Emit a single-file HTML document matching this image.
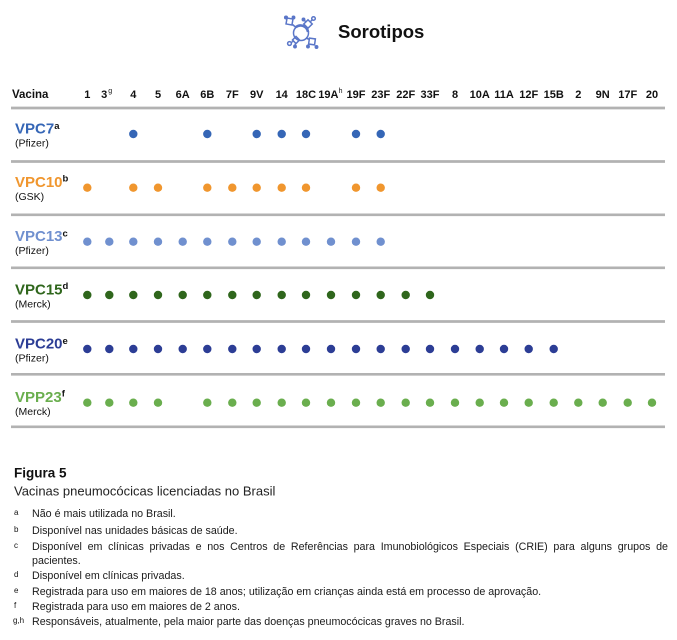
<!DOCTYPE html>
<html>
<head>
<meta charset="utf-8">
<style>
  html, body { margin:0; padding:0; background:#fff; }
  #wrap { position:relative; width:677px; height:640px; overflow:hidden; background:#fff; }
  svg { position:absolute; left:0; top:0; }
  .fn { position:absolute; left:32px; font-family:"Liberation Sans", sans-serif; font-size:10.7px; line-height:13px; height:13px; color:#1a1a1a; white-space:nowrap; }
  .just { width:636px; text-align:justify; text-align-last:justify; white-space:normal; }
</style>
</head>
<body>
<div id="wrap">
<svg width="677" height="640" viewBox="0 0 677 640" xmlns="http://www.w3.org/2000/svg" font-family="Liberation Sans, sans-serif">
  <!-- icon -->
  <g stroke="#5a76c8" fill="none" stroke-width="1.5">
    <circle cx="301" cy="33" r="7.5"/>
    <path d="M296 27 A7.5 7.5 0 0 1 308 32" stroke-width="2.6"/>
    <rect x="286.5" y="18.5" width="6" height="6" transform="rotate(10 289.5 21.5)"/>
    <line x1="292.5" y1="24.5" x2="296" y2="27.5"/>
    <circle cx="286" cy="17.5" r="1.3" fill="#5a76c8"/>
    <circle cx="293.5" cy="17.5" r="1.2" fill="#5a76c8"/>
    <rect x="305" y="21" width="6" height="6" transform="rotate(45 308 24)"/>
    <circle cx="313.5" cy="18.5" r="1.8"/>
    <line x1="310.5" y1="21.5" x2="312.3" y2="19.8"/>
    <circle cx="303.5" cy="19.5" r="1.2" fill="#5a76c8"/>
    <line x1="304.5" y1="20.5" x2="306" y2="22"/>
    <circle cx="289.5" cy="43.5" r="1.9"/>
    <rect x="293.5" y="37.5" width="5" height="5" transform="rotate(45 296 40)"/>
    <line x1="291" y1="42.5" x2="294" y2="41"/>
    <line x1="297.5" y1="38.5" x2="297" y2="39"/>
    <circle cx="295" cy="46.5" r="1.2" fill="#5a76c8"/>
    <line x1="295" y1="45" x2="296" y2="42.5"/>
    <rect x="309" y="38.5" width="6" height="6" transform="rotate(8 312 41.5)"/>
    <line x1="306" y1="38" x2="309.5" y2="39.5"/>
    <circle cx="316.5" cy="47" r="1.2" fill="#5a76c8"/>
    <circle cx="308" cy="46.5" r="1.2" fill="#5a76c8"/>
  </g>
  <text x="338" y="38" font-size="18.5" font-weight="bold" fill="#111">Sorotipos</text>

  <!-- header -->
  <g font-size="11" font-weight="bold" fill="#111" text-anchor="middle">
    <text x="12" y="98" text-anchor="start" font-size="11.5">Vacina</text>
    <text x="87.3" y="98">1</text>
    <text x="107.3" y="98" text-anchor="end">3</text>
    <text x="108.2" y="93" text-anchor="start" font-size="7" font-weight="normal">g</text>
    <text x="133.3" y="98">4</text>
    <text x="158" y="98">5</text>
    <text x="182.7" y="98">6A</text>
    <text x="207.3" y="98">6B</text>
    <text x="232.3" y="98">7F</text>
    <text x="256.7" y="98">9V</text>
    <text x="281.7" y="98">14</text>
    <text x="306" y="98">18C</text>
    <text x="318.3" y="98" text-anchor="start">19A</text>
    <text x="338.6" y="93" text-anchor="start" font-size="7" font-weight="normal">h</text>
    <text x="356" y="98">19F</text>
    <text x="380.7" y="98">23F</text>
    <text x="405.7" y="98">22F</text>
    <text x="430" y="98">33F</text>
    <text x="455" y="98">8</text>
    <text x="479.7" y="98">10A</text>
    <text x="504" y="98">11A</text>
    <text x="528.7" y="98">12F</text>
    <text x="553.7" y="98">15B</text>
    <text x="578.3" y="98">2</text>
    <text x="602.7" y="98">9N</text>
    <text x="627.7" y="98">17F</text>
    <text x="652" y="98">20</text>
  </g>

  <!-- rules -->
  <g stroke="#b2b2b2" stroke-width="2.7">
    <line x1="11" y1="108" x2="665" y2="108"/>
    <line x1="11" y1="161.5" x2="665" y2="161.5"/>
    <line x1="11" y1="214.8" x2="665" y2="214.8"/>
    <line x1="11" y1="267.8" x2="665" y2="267.8"/>
    <line x1="11" y1="321.5" x2="665" y2="321.5"/>
    <line x1="11" y1="374.3" x2="665" y2="374.3"/>
    <line x1="11" y1="426.8" x2="665" y2="426.8"/>
  </g>

  <!-- row labels -->
  <g font-weight="bold" font-size="15">
    <text x="15" y="133.3" fill="#3566b6">VPC7<tspan font-size="9.5" fill="#111" dy="-4.5">a</tspan></text>
    <text x="15" y="187" fill="#f0962e">VPC10<tspan font-size="9.5" fill="#111" dy="-5.5">b</tspan></text>
    <text x="15" y="241" fill="#7090cf">VPC13<tspan font-size="9.5" fill="#111" dy="-4.5">c</tspan></text>
    <text x="15" y="294.3" fill="#2f661c">VPC15<tspan font-size="9.5" fill="#111" dy="-5.5">d</tspan></text>
    <text x="15" y="348.3" fill="#2c3d95">VPC20<tspan font-size="9.5" fill="#111" dy="-4.5">e</tspan></text>
    <text x="15" y="402" fill="#6aae4e">VPP23<tspan font-size="9.5" fill="#111" dy="-5.5">f</tspan></text>
  </g>
  <g font-size="10.5" fill="#111">
    <text x="15" y="146.5">(Pfizer)</text>
    <text x="15" y="200.2">(GSK)</text>
    <text x="15" y="254.2">(Pfizer)</text>
    <text x="15" y="307.5">(Merck)</text>
    <text x="15" y="361.5">(Pfizer)</text>
    <text x="15" y="415.2">(Merck)</text>
  </g>

  <!-- VPC7 -->
  <g fill="#3566b6">
    <circle cx="133.3" cy="134" r="4.2"/><circle cx="207.3" cy="134" r="4.2"/>
    <circle cx="256.7" cy="134" r="4.2"/><circle cx="281.7" cy="134" r="4.2"/>
    <circle cx="306" cy="134" r="4.2"/><circle cx="356" cy="134" r="4.2"/>
    <circle cx="380.7" cy="134" r="4.2"/>
  </g>
  <!-- VPC10 -->
  <g fill="#f0962e">
    <circle cx="87.3" cy="187.7" r="4.2"/><circle cx="133.3" cy="187.7" r="4.2"/>
    <circle cx="158" cy="187.7" r="4.2"/><circle cx="207.3" cy="187.7" r="4.2"/>
    <circle cx="232.3" cy="187.7" r="4.2"/><circle cx="256.7" cy="187.7" r="4.2"/>
    <circle cx="281.7" cy="187.7" r="4.2"/><circle cx="306" cy="187.7" r="4.2"/>
    <circle cx="356" cy="187.7" r="4.2"/><circle cx="380.7" cy="187.7" r="4.2"/>
  </g>
  <!-- VPC13 -->
  <g fill="#7090cf">
    <circle cx="87.3" cy="241.7" r="4.2"/><circle cx="109.3" cy="241.7" r="4.2"/>
    <circle cx="133.3" cy="241.7" r="4.2"/><circle cx="158" cy="241.7" r="4.2"/>
    <circle cx="182.7" cy="241.7" r="4.2"/><circle cx="207.3" cy="241.7" r="4.2"/>
    <circle cx="232.3" cy="241.7" r="4.2"/><circle cx="256.7" cy="241.7" r="4.2"/>
    <circle cx="281.7" cy="241.7" r="4.2"/><circle cx="306" cy="241.7" r="4.2"/>
    <circle cx="331" cy="241.7" r="4.2"/><circle cx="356" cy="241.7" r="4.2"/>
    <circle cx="380.7" cy="241.7" r="4.2"/>
  </g>
  <!-- VPC15 -->
  <g fill="#2f661c">
    <circle cx="87.3" cy="295" r="4.2"/><circle cx="109.3" cy="295" r="4.2"/>
    <circle cx="133.3" cy="295" r="4.2"/><circle cx="158" cy="295" r="4.2"/>
    <circle cx="182.7" cy="295" r="4.2"/><circle cx="207.3" cy="295" r="4.2"/>
    <circle cx="232.3" cy="295" r="4.2"/><circle cx="256.7" cy="295" r="4.2"/>
    <circle cx="281.7" cy="295" r="4.2"/><circle cx="306" cy="295" r="4.2"/>
    <circle cx="331" cy="295" r="4.2"/><circle cx="356" cy="295" r="4.2"/>
    <circle cx="380.7" cy="295" r="4.2"/><circle cx="405.7" cy="295" r="4.2"/>
    <circle cx="430" cy="295" r="4.2"/>
  </g>
  <!-- VPC20 -->
  <g fill="#2c3d95">
    <circle cx="87.3" cy="349" r="4.2"/><circle cx="109.3" cy="349" r="4.2"/>
    <circle cx="133.3" cy="349" r="4.2"/><circle cx="158" cy="349" r="4.2"/>
    <circle cx="182.7" cy="349" r="4.2"/><circle cx="207.3" cy="349" r="4.2"/>
    <circle cx="232.3" cy="349" r="4.2"/><circle cx="256.7" cy="349" r="4.2"/>
    <circle cx="281.7" cy="349" r="4.2"/><circle cx="306" cy="349" r="4.2"/>
    <circle cx="331" cy="349" r="4.2"/><circle cx="356" cy="349" r="4.2"/>
    <circle cx="380.7" cy="349" r="4.2"/><circle cx="405.7" cy="349" r="4.2"/>
    <circle cx="430" cy="349" r="4.2"/><circle cx="455" cy="349" r="4.2"/>
    <circle cx="479.7" cy="349" r="4.2"/><circle cx="504" cy="349" r="4.2"/>
    <circle cx="528.7" cy="349" r="4.2"/><circle cx="553.7" cy="349" r="4.2"/>
  </g>
  <!-- VPP23 -->
  <g fill="#6aae4e">
    <circle cx="87.3" cy="402.7" r="4.2"/><circle cx="109.3" cy="402.7" r="4.2"/>
    <circle cx="133.3" cy="402.7" r="4.2"/><circle cx="158" cy="402.7" r="4.2"/>
    <circle cx="207.3" cy="402.7" r="4.2"/>
    <circle cx="232.3" cy="402.7" r="4.2"/><circle cx="256.7" cy="402.7" r="4.2"/>
    <circle cx="281.7" cy="402.7" r="4.2"/><circle cx="306" cy="402.7" r="4.2"/>
    <circle cx="331" cy="402.7" r="4.2"/><circle cx="356" cy="402.7" r="4.2"/>
    <circle cx="380.7" cy="402.7" r="4.2"/><circle cx="405.7" cy="402.7" r="4.2"/>
    <circle cx="430" cy="402.7" r="4.2"/><circle cx="455" cy="402.7" r="4.2"/>
    <circle cx="479.7" cy="402.7" r="4.2"/><circle cx="504" cy="402.7" r="4.2"/>
    <circle cx="528.7" cy="402.7" r="4.2"/><circle cx="553.7" cy="402.7" r="4.2"/>
    <circle cx="578.3" cy="402.7" r="4.2"/><circle cx="602.7" cy="402.7" r="4.2"/>
    <circle cx="627.7" cy="402.7" r="4.2"/><circle cx="652" cy="402.7" r="4.2"/>
  </g>

  <!-- caption -->
  <text x="14" y="477.7" font-size="13.5" font-weight="bold" fill="#111">Figura 5</text>
  <text x="14" y="495.7" font-size="13" fill="#222">Vacinas pneumocócicas licenciadas no Brasil</text>

  <!-- footnote markers -->
  <g font-size="8" fill="#111">
    <text x="14" y="515">a</text>
    <text x="14" y="532">b</text>
    <text x="14" y="548">c</text>
    <text x="14" y="577">d</text>
    <text x="14" y="593">e</text>
    <text x="14" y="608">f</text>
    <text x="13" y="623">g,h</text>
  </g>
</svg>

<div class="fn" style="top:507.7px;">Não é mais utilizada no Brasil.</div>
<div class="fn" style="top:524.7px;">Disponível nas unidades básicas de saúde.</div>
<div class="fn just" style="top:540.7px;">Disponível em clínicas privadas e nos Centros de Referências para Imunobiológicos Especiais (CRIE) para alguns grupos de</div>
<div class="fn" style="top:554.7px;">pacientes.</div>
<div class="fn" style="top:569.7px;">Disponível em clínicas privadas.</div>
<div class="fn" style="top:585.7px;">Registrada para uso em maiores de 18 anos; utilização em crianças ainda está em processo de aprovação.</div>
<div class="fn" style="top:600.7px;">Registrada para uso em maiores de 2 anos.</div>
<div class="fn" style="top:615.7px;">Responsáveis, atualmente, pela maior parte das doenças pneumocócicas graves no Brasil.</div>
</div>
</body>
</html>
